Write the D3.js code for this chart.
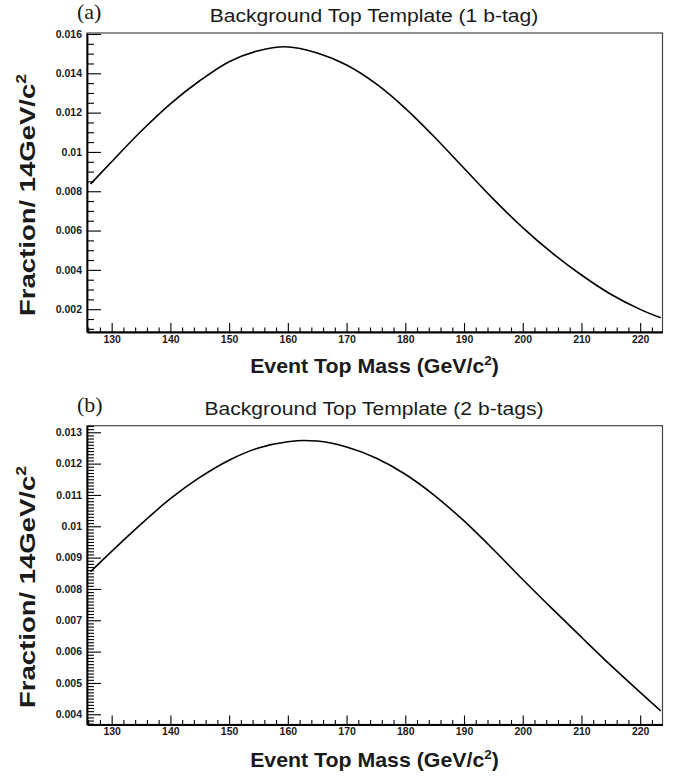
<!DOCTYPE html>
<html><head><meta charset="utf-8">
<script src="https://cdn.jsdelivr.net/npm/d3@7"></script>
<style>body{margin:0;background:#fff}</style>
</head><body><svg id="c" width="683" height="776"></svg>
<script>
// ---- data ----
const massGeV = [126.4,130,135,140,145,150,155,159.5,165,170,175,180,185,190,195,200,205,210,215,220,223.5];
const frac1b  = [0.00837,0.00950,0.01105,0.01245,0.01362,0.01459,0.01515,0.01535,0.01503,0.01442,0.01347,0.01222,0.01075,0.00917,0.00760,0.00615,0.00486,0.00374,0.00276,0.00199,0.00156];
const massGeV2 = [126.4,130,135,140,145,150,155,160,162.7,165,170,175,180,185,190,195,200,205,210,215,220,223.5];
const frac2b  = [0.00855,0.00920,0.01007,0.01088,0.01156,0.01211,0.01250,0.01270,0.01274,0.01272,0.01253,0.01218,0.01166,0.01098,0.01017,0.00926,0.00830,0.00737,0.00646,0.00556,0.00470,0.00411];
const titles = ["Background Top Template (1 b-tag)","Background Top Template (2 b-tags)"];
const panelTags = ["(a)","(b)"];
const xTickValues = [130,140,150,160,170,180,190,200,210,220];
const xTickLabels = ["130","140","150","160","170","180","190","200","210","220"];
const yTickValues1 = [0.002,0.004,0.006,0.008,0.01,0.012,0.014,0.016];
const yTickLabels1 = ["0.002","0.004","0.006","0.008","0.01","0.012","0.014","0.016"];
const yTickValues2 = [0.004,0.005,0.006,0.007,0.008,0.009,0.01,0.011,0.012,0.013];
const yTickLabels2 = ["0.004","0.005","0.006","0.007","0.008","0.009","0.01","0.011","0.012","0.013"];
const xDomain = [125.8,223.8];

const svg = d3.select("#c");
const panels = [
  {x:massGeV, y:frac1b, top:33, bottom:332, yDom:[0.00084,0.01605], yt:yTickValues1, yl:yTickLabels1, yMinorStep:0.0005, title:titles[0], tag:panelTags[0], titleY:21.7, tagY:18.5, xLabY:373, yLabC:195},
  {x:massGeV2, y:frac2b, top:425.7, bottom:724.5, yDom:[0.003674,0.01321], yt:yTickValues2, yl:yTickLabels2, yMinorStep:0.0001, title:titles[1], tag:panelTags[1], titleY:415, tagY:412, xLabY:767, yLabC:587}
];
const L=87, R=662.5;
const ink="#1a1a1a";

panels.forEach(p=>{
  const x = d3.scaleLinear().domain(xDomain).range([L,R]);
  const y = d3.scaleLinear().domain(p.yDom).range([p.bottom,p.top]);
  const g = svg.append("g");
  g.append("rect").attr("x",L).attr("y",p.top).attr("width",R-L).attr("height",p.bottom-p.top)
    .attr("fill","none").attr("stroke","#444").attr("stroke-width",1.2);
  const xMinor = d3.range(126,224,2).filter(v=>v%10!==0);
  g.append("g").attr("transform",`translate(0,${p.bottom})`)
    .call(d3.axisBottom(x).tickValues(xMinor).tickSize(-4.5).tickFormat(""))
    .call(s=>s.select(".domain").remove());
  const yMinor = d3.range(Math.ceil(p.yDom[0]/p.yMinorStep-1e-6), Math.floor(p.yDom[1]/p.yMinorStep+1e-6)+1).map(k=>k*p.yMinorStep)
    .filter(v=>!p.yt.some(t=>Math.abs(t-v)<1e-9));
  g.append("g").attr("transform",`translate(${L},0)`)
    .call(d3.axisLeft(y).tickValues(yMinor).tickSize(-7).tickFormat(""))
    .call(s=>s.select(".domain").remove());
  const xa = g.append("g").attr("transform",`translate(0,${p.bottom})`)
    .call(d3.axisBottom(x).tickValues(xTickValues).tickSize(-9).tickPadding(3.5).tickSizeOuter(0)
      .tickFormat((d,i)=>xTickLabels[i]));
  const ya = g.append("g").attr("transform",`translate(${L},0)`)
    .call(d3.axisLeft(y).tickValues(p.yt).tickSize(-14).tickPadding(5).tickSizeOuter(0)
      .tickFormat((d,i)=>p.yl[i]));
  [xa,ya].forEach(a=>{
    a.selectAll("text").attr("font-family","'Liberation Sans',Arial,sans-serif").attr("font-weight","bold")
      .attr("font-size",10.5).attr("fill",ink);
    a.select(".domain").attr("stroke","#000").attr("stroke-width",1.8);
  });
  g.selectAll(".tick line").attr("stroke","#000").attr("stroke-width",1.1);
  const line = d3.line().x(d=>x(d[0])).y(d=>y(d[1])).curve(d3.curveMonotoneX);
  g.append("path").datum(p.x.map((v,i)=>[v,p.y[i]])).attr("d",line)
    .attr("fill","none").attr("stroke","#000").attr("stroke-width",1.6);
  g.append("text").attr("transform",`translate(374,${p.titleY}) scale(1.14,1)`).attr("text-anchor","middle")
    .attr("font-family","'Liberation Sans',Arial,sans-serif").attr("font-size",18.5).attr("fill",ink).text(p.title);
  g.append("text").attr("x",77).attr("y",p.tagY).attr("font-family","'Liberation Serif','Times New Roman',serif")
    .attr("font-size",22).attr("fill",ink).text(p.tag);
  const xl = g.append("text").attr("transform",`translate(374.5,${p.xLabY}) scale(1.04,1)`).attr("text-anchor","middle")
    .attr("font-family","'Liberation Sans',Arial,sans-serif").attr("font-weight","bold").attr("font-size",20.5).attr("fill",ink);
  xl.append("tspan").text("Event Top Mass (GeV/c");
  xl.append("tspan").attr("font-size",13).attr("dy",-8).text("2");
  xl.append("tspan").attr("dy",8).text(")");
  const yl = g.append("text").attr("transform",`translate(35,${p.yLabC}) rotate(-90) scale(1.25,1)`).attr("text-anchor","middle")
    .attr("font-family","'Liberation Sans',Arial,sans-serif").attr("font-weight","bold").attr("font-size",22).attr("fill",ink);
  yl.append("tspan").text("Fraction/ 14GeV/c");
  yl.append("tspan").attr("font-size",14).attr("dy",-9).text("2");
});
</script></body></html>
